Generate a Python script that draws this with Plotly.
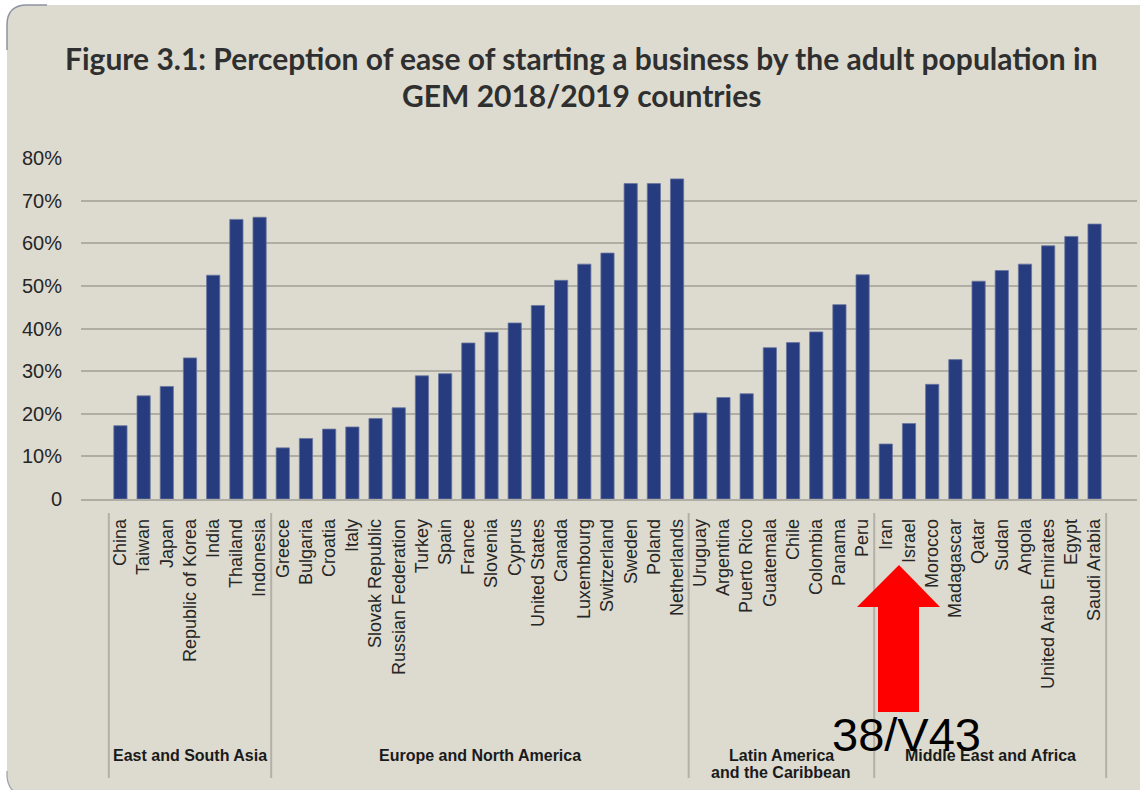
import plotly.graph_objects as go

# ---------------- data ----------------
groups = ["East and South Asia", "Europe and North America",
          "Latin America<br>and the Caribbean", "Middle East and Africa"]
group_countries = [
    ["China", "Taiwan", "Japan", "Republic of Korea", "India", "Thailand", "Indonesia"],
    ["Greece", "Bulgaria", "Croatia", "Italy", "Slovak Republic", "Russian Federation",
     "Turkey", "Spain", "France", "Slovenia", "Cyprus", "United States", "Canada",
     "Luxembourg", "Switzerland", "Sweden", "Poland", "Netherlands"],
    ["Uruguay", "Argentina", "Puerto Rico", "Guatemala", "Chile", "Colombia", "Panama", "Peru"],
    ["Iran", "Israel", "Morocco", "Madagascar", "Qatar", "Sudan", "Angola",
     "United Arab Emirates", "Egypt", "Saudi Arabia"],
]
group_values = [
    [17.2, 24.2, 26.4, 33.1, 52.5, 65.6, 66.1],
    [12.0, 14.2, 16.4, 16.9, 18.9, 21.4, 28.9, 29.4, 36.6, 39.1, 41.3, 45.4, 51.3,
     55.1, 57.7, 74.0, 74.0, 75.1],
    [20.2, 23.8, 24.7, 35.5, 36.7, 39.2, 45.6, 52.6],
    [12.9, 17.7, 26.9, 32.7, 51.1, 53.6, 55.1, 59.4, 61.6, 64.5],
]
y_tickvals = [0, 10, 20, 30, 40, 50, 60, 70, 80]
y_ticktext = ["0", "10%", "20%", "30%", "40%", "50%", "60%", "70%", "80%"]
title_lines = ["Figure 3.1: Perception of ease of starting a business by the adult population in",
               "GEM 2018/2019 countries"]
stamp_text = "38/V43"

countries = [c for g in group_countries for c in g]
values = [v for g in group_values for v in g]

# ---------------- layout geometry ----------------
W, H = 1140, 790
ML, MR, MT, MB = 81, 3, 158, 291
PW, PH = W - ML - MR, H - MT - MB
XMIN, XMAX = -1.70, 43.83
BG = "#dddbcf"
GRID = "#b0aea4"
SANS = "Liberation Sans, Arial, sans-serif"


def px(x):  # pixel -> paper x
    return (x - ML) / PW


def py(y):  # pixel -> paper y
    return (H - MB - y) / PH


def idx_to_paper(i):
    return (i - XMIN) / (XMAX - XMIN)


fig = go.Figure()
fig.add_trace(go.Bar(
    x=list(range(len(countries))), y=values,
    marker=dict(color="#263c7e", line=dict(color="#6a76a0", width=0.8)),
    width=0.57, hoverinfo="skip",
))

shapes = []
# beige background card with rounded left corners
r = 20
left, top, right, bottom = 7, 5, W + 5, H - 1
card = (f"M {px(left)},{py(top + r)} Q {px(left)},{py(top)} {px(left + r)},{py(top)} "
        f"L {px(right)},{py(top)} L {px(right)},{py(H + 5)} L {px(left + 12)},{py(H + 5)} "
        f"Q {px(left)},{py(bottom)} {px(left)},{py(bottom - 14)} Z")
shapes.append(dict(type="path", path=card, xref="paper", yref="paper",
                   fillcolor=BG, line=dict(width=0), layer="below"))
# corner border arcs
arc = (f"M {px(left)},{py(top + r + 25)} L {px(left)},{py(top + r)} "
       f"Q {px(left)},{py(top)} {px(left + r)},{py(top)} L {px(left + r + 20)},{py(top)}")
shapes.append(dict(type="path", path=arc, xref="paper", yref="paper",
                   line=dict(color="#8d93a3", width=1.5), layer="below"))
arc2 = (f"M {px(left)},{py(bottom - 18)} L {px(left)},{py(bottom - 14)} "
        f"Q {px(left)},{py(bottom)} {px(left + 12)},{py(H + 5)}")
shapes.append(dict(type="path", path=arc2, xref="paper", yref="paper",
                   line=dict(color="#9aa0ad", width=1.2), layer="below"))

annotations = []
# title (two lines)
for line, yy in zip(title_lines, [58, 95]):
    annotations.append(dict(
        x=px(581), y=py(yy), xref="paper", yref="paper", text=f"<b>{line}</b>",
        showarrow=False, xanchor="center", yanchor="middle",
        font=dict(family="Lato, sans-serif", size=30, color="#2f2f2f"),
    ))

# group separators and group labels
start = 0
bounds = [-0.5]
for g, cs in zip(groups, group_countries):
    end = start + len(cs) - 1
    bounds.append(end + 0.5)
    for k, part in enumerate(g.split("<br>")):
        annotations.append(dict(
            x=(start + end) / 2, y=py(755 + 17 * k), xref="x", yref="paper",
            text=f"<b>{part}</b>", showarrow=False, xanchor="center", yanchor="middle",
            font=dict(family=SANS, size=16, color="#1a1a1a"),
        ))
    start = end + 1
for b in bounds:
    shapes.append(dict(type="line", xref="paper", yref="paper",
                       x0=idx_to_paper(b), x1=idx_to_paper(b), y0=py(513), y1=py(778),
                       line=dict(color="#b3b1a7", width=2)))

# red arrow overlay
arrow_pts = [(899, 565), (940, 607), (919, 607), (919, 712), (878, 712), (878, 607), (857, 607)]
arrow_path = "M " + " L ".join(f"{px(a)},{py(b)}" for a, b in arrow_pts) + " Z"
shapes.append(dict(type="path", path=arrow_path, xref="paper", yref="paper",
                   fillcolor="#ff0000", line=dict(width=0), layer="above"))
annotations.append(dict(
    x=px(906), y=py(734), xref="paper", yref="paper", text=stamp_text, showarrow=False,
    xanchor="center", yanchor="middle",
    font=dict(family=SANS, size=47, color="#000000"),
))

fig.update_layout(
    width=W, height=H,
    margin=dict(l=ML, r=MR, t=MT, b=MB, pad=0),
    paper_bgcolor="#ffffff", plot_bgcolor="rgba(0,0,0,0)",
    showlegend=False,
    shapes=shapes, annotations=annotations,
)
fig.update_xaxes(
    range=[XMIN, XMAX], tickmode="array", tickvals=list(range(len(countries))),
    ticktext=countries, tickangle=-90,
    tickfont=dict(family=SANS, size=18, color="#262626"),
    ticks="outside", ticklen=11, tickcolor="rgba(0,0,0,0)",
    showgrid=False, showline=True, linecolor=GRID, linewidth=1.5, zeroline=False,
)
fig.update_yaxes(
    range=[0, 80], tickmode="array", tickvals=y_tickvals, ticktext=y_ticktext,
    tickfont=dict(family=SANS, size=20, color="#262626"),
    ticks="outside", ticklen=14, tickcolor="rgba(0,0,0,0)",
    showgrid=True, gridcolor=GRID, gridwidth=1.5, zeroline=False, showline=False,
)

fig.write_html("out.html")
